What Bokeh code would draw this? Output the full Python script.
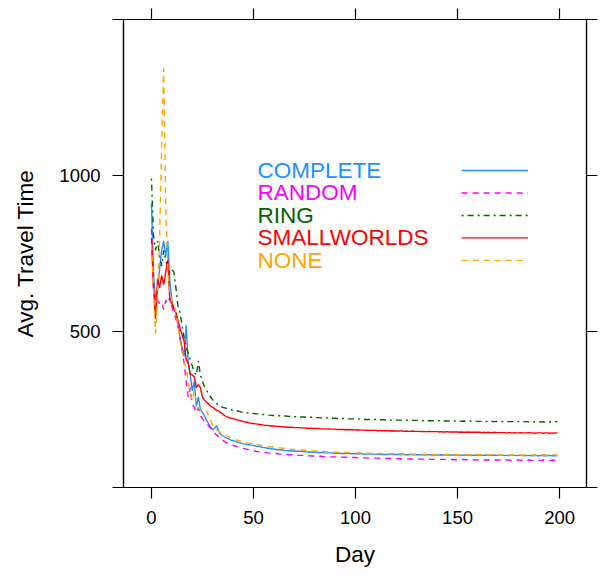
from bokeh.plotting import figure
from bokeh.models import LinearAxis, FixedTicker, Range1d, ColumnDataSource
from bokeh.embed import file_html
from bokeh.resources import INLINE
from bokeh.core.properties import value

days = list(range(200))

complete = [
    910, 690, 600, 640, 700, 760, 790, 740, 790, 660,
    600, 570, 560, 520, 480, 450, 420, 520, 400, 360,
    310, 340, 260, 290, 250, 240, 230, 215, 205, 193,
    185, 190, 198, 180, 170, 165, 161, 158, 155, 152,
    150, 148, 146, 144, 142, 140, 139, 138, 137, 136,
    135, 133, 132, 131, 129, 128, 127, 126, 125, 124,
    123, 122, 121, 121, 120, 119, 119, 118, 118, 117,
    117, 116, 116, 116, 115, 115, 114, 114, 114, 113,
    113, 113, 112, 112, 112, 111, 111, 111, 111, 110,
    110, 110, 110, 109, 109, 109, 109, 109, 108, 108,
    108, 108, 108, 108, 107, 107, 107, 107, 107, 107,
    107, 106, 106, 106, 106, 106, 106, 106, 106, 106,
    106, 106, 105, 106, 105, 105, 105, 106, 105, 105,
    105, 105, 105, 105, 104, 105, 105, 104, 105, 104,
    104, 104, 105, 104, 104, 104, 104, 104, 104, 104,
    104, 104, 103, 104, 104, 103, 104, 104, 103, 104,
    103, 104, 103, 103, 104, 103, 103, 103, 104, 103,
    103, 103, 103, 103, 103, 102, 103, 103, 103, 102,
    103, 103, 102, 103, 102, 103, 102, 102, 103, 102,
    102, 103, 102, 102, 102, 103, 102, 102, 102, 102,
]

random_ = [
    830, 640, 590, 600, 590, 595, 570, 600, 590, 610,
    580, 560, 540, 520, 480, 440, 400, 340, 290, 320,
    265, 257, 240, 255, 230, 221, 212, 205, 198, 190,
    180, 174, 168, 162, 156, 151, 147, 143, 140, 137,
    135, 133, 131, 129, 127, 125, 124, 122, 120, 118,
    117, 116, 115, 114, 113, 112, 112, 111, 110, 110,
    109, 109, 108, 107, 107, 106, 106, 105, 105, 105,
    104, 104, 103, 103, 103, 102, 102, 102, 101, 101,
    101, 100, 100, 100, 99, 99, 99, 99, 98, 98,
    98, 98, 97, 97, 97, 97, 96, 96, 96, 96,
    96, 95, 95, 95, 95, 95, 94, 94, 94, 94,
    94, 94, 93, 93, 93, 93, 93, 93, 93, 92,
    92, 92, 92, 92, 92, 92, 91, 92, 91, 91,
    91, 91, 91, 91, 91, 90, 91, 90, 90, 90,
    90, 90, 90, 90, 90, 90, 89, 90, 89, 89,
    89, 89, 89, 90, 89, 89, 89, 89, 89, 88,
    89, 88, 89, 88, 88, 89, 88, 88, 88, 88,
    88, 88, 89, 88, 88, 88, 87, 88, 88, 88,
    88, 87, 88, 88, 87, 88, 87, 87, 88, 87,
    87, 87, 88, 87, 87, 87, 87, 88, 87, 87,
]

ring = [
    990, 810, 760, 790, 740, 710, 760, 730, 700, 690,
    700, 690, 640, 580, 560, 520, 480, 450, 430, 410,
    390, 370, 360, 405, 360, 340, 322, 312, 300, 290,
    281, 275, 269, 264, 260, 257, 255, 253, 251, 249,
    248, 247, 246, 244, 242, 241, 240, 239, 238, 238,
    237, 236, 236, 235, 234, 234, 233, 232, 232, 231,
    231, 230, 230, 230, 229, 229, 229, 228, 228, 228,
    227, 227, 227, 226, 226, 226, 225, 225, 225, 225,
    224, 224, 224, 223, 223, 223, 223, 222, 222, 222,
    222, 221, 221, 221, 221, 220, 220, 220, 220, 220,
    219, 219, 219, 219, 219, 218, 218, 218, 218, 218,
    218, 217, 217, 217, 217, 217, 217, 216, 216, 216,
    216, 216, 216, 216, 215, 216, 215, 215, 215, 215,
    215, 215, 215, 214, 215, 214, 214, 214, 214, 214,
    214, 214, 213, 214, 213, 213, 213, 213, 213, 213,
    213, 213, 212, 213, 212, 212, 213, 212, 212, 212,
    212, 212, 212, 211, 212, 212, 211, 212, 211, 212,
    211, 211, 211, 212, 211, 211, 211, 211, 210, 211,
    211, 211, 210, 211, 211, 210, 211, 210, 211, 210,
    210, 211, 210, 210, 211, 210, 210, 210, 211, 211,
]

smallworlds = [
    800, 640, 540, 670, 640, 680, 650, 690, 730, 600,
    590, 575, 560, 535, 510, 490, 470, 410, 400, 365,
    360, 355, 320, 330, 320, 290, 280, 273, 268, 260,
    257, 252, 247, 245, 240, 235, 230, 226, 224, 222,
    221, 219, 217, 215, 213, 211, 210, 209, 207, 206,
    205, 204, 203, 202, 201, 200, 199, 199, 198, 197,
    197, 196, 196, 195, 195, 194, 194, 193, 193, 193,
    192, 192, 192, 191, 191, 191, 190, 190, 190, 189,
    189, 189, 189, 188, 188, 188, 187, 188, 187, 187,
    187, 186, 186, 186, 186, 185, 186, 185, 185, 185,
    184, 185, 184, 184, 184, 183, 184, 183, 183, 183,
    183, 182, 183, 182, 182, 182, 182, 181, 182, 181,
    181, 181, 181, 181, 180, 181, 180, 180, 181, 180,
    180, 180, 179, 180, 179, 179, 180, 179, 179, 179,
    179, 178, 179, 178, 178, 179, 178, 178, 178, 178,
    178, 177, 178, 177, 177, 178, 177, 177, 177, 177,
    177, 177, 176, 177, 176, 177, 176, 176, 177, 176,
    176, 176, 176, 176, 175, 176, 176, 175, 176, 175,
    175, 176, 175, 175, 175, 176, 175, 175, 174, 175,
    175, 175, 174, 175, 175, 174, 175, 174, 175, 175,
]

none_ = [
    780, 640, 494, 620, 800, 1100, 1343, 900, 700, 620,
    600, 590, 560, 520, 470, 440, 400, 385, 340, 300,
    280, 310, 270, 255, 250, 246, 240, 246, 230, 215,
    200, 190, 185, 180, 177, 173, 169, 165, 162, 159,
    156, 154, 152, 150, 148, 146, 145, 143, 142, 140,
    139, 138, 137, 136, 135, 134, 133, 132, 131, 130,
    129, 128, 127, 127, 126, 125, 124, 124, 123, 122,
    122, 121, 121, 120, 120, 119, 119, 118, 118, 117,
    117, 117, 116, 116, 115, 115, 115, 114, 114, 114,
    113, 113, 113, 113, 112, 112, 112, 112, 111, 111,
    111, 111, 111, 110, 110, 110, 110, 110, 109, 109,
    109, 109, 109, 109, 109, 108, 108, 108, 108, 108,
    108, 108, 108, 108, 107, 108, 107, 107, 107, 107,
    107, 107, 107, 107, 107, 106, 107, 106, 106, 106,
    106, 106, 106, 106, 106, 106, 106, 105, 106, 106,
    105, 106, 105, 105, 106, 105, 105, 105, 105, 105,
    105, 105, 105, 105, 105, 104, 105, 105, 104, 105,
    104, 105, 104, 104, 105, 104, 104, 104, 105, 104,
    104, 104, 104, 105, 104, 104, 104, 104, 104, 104,
    104, 104, 105, 104, 104, 104, 104, 105, 104, 104,
]

series_names = ["COMPLETE", "RANDOM", "RING", "SMALLWORLDS", "NONE"]
series_values = [complete, random_, ring, smallworlds, none_]
series_colors = ["#1E90FF", "#FF00FF", "#006400", "#FF0000", "#FFA500"]
series_dashes = ["solid", "6 5", "2 4 6 4", "solid", "6 5"]

x_ticks = [0, 50, 100, 150, 200]
y_label_ticks = [500, 1000]
y_edge_ticks = [0, 1500]

FONT = "Liberation Sans"

p = figure(width=602, height=576,
           x_range=Range1d(-13.7, 213.2), y_range=Range1d(0, 1500),
           output_backend="svg", toolbar_location=None,
           min_border_left=123, min_border_right=16,
           min_border_top=19, min_border_bottom=89)
p.xgrid.visible = False
p.ygrid.visible = False
p.outline_line_color = "black"
p.outline_line_width = 1.2
p.background_fill_color = "white"
p.border_fill_color = "white"

p.add_layout(LinearAxis(), "above")
p.add_layout(LinearAxis(), "right")

bottom = p.below[0]
left = p.left[0]
top = p.above[0]
right = p.right[0]

bottom.ticker = FixedTicker(ticks=x_ticks)
left.ticker = FixedTicker(ticks=y_label_ticks, minor_ticks=y_edge_ticks)
# unlabeled frame ticks drawn as "minor" ticks (no labels)
top.ticker = FixedTicker(ticks=[], minor_ticks=x_ticks)
right.ticker = FixedTicker(ticks=[], minor_ticks=y_label_ticks + y_edge_ticks)

for ax in p.axis:
    ax.axis_line_color = "black"
    ax.axis_line_width = 1.2
    ax.major_tick_line_color = "black"
    ax.major_tick_line_width = 1.2
    ax.major_tick_in = 0
    ax.major_tick_out = 11
    ax.minor_tick_line_color = "black"
    ax.minor_tick_line_width = 1.2
    ax.minor_tick_in = 0
    ax.minor_tick_out = 11
    ax.major_label_text_font = FONT
    ax.major_label_text_font_size = "18.5px"
    ax.major_label_text_color = "black"
    ax.axis_label_text_font = FONT
    ax.axis_label_text_font_style = "normal"
    ax.axis_label_text_font_size = "22.5px"
    ax.axis_label_text_color = "black"

top.major_label_standoff = 0
right.major_label_standoff = 0

bottom.axis_label = "Day"
bottom.major_label_standoff = 12
bottom.axis_label_standoff = 15
left.axis_label = "Avg. Travel Time"
left.major_label_standoff = 12
left.axis_label_standoff = 18

for name, vals, col, dash in zip(series_names, series_values, series_colors, series_dashes):
    p.line(days, vals, line_color=col, line_width=1.4, line_dash=dash)

# key (text first, then line sample) placed in data coordinates
key_text_x = 52
key_line_x0, key_line_x1 = 152, 184.5
key_top = 1016
key_step = 72
key_y = [key_top - i * key_step for i in range(len(series_names))]

key_src = ColumnDataSource(dict(x=[key_text_x] * len(series_names), y=key_y,
                                text=series_names, color=series_colors))
p.text(x="x", y="y", text="text", text_color="color", source=key_src,
       text_font=value(FONT), text_font_size="22.5px",
       text_align="left", text_baseline="middle")
for yy, col, dash in zip(key_y, series_colors, series_dashes):
    p.line([key_line_x0, key_line_x1], [yy, yy], line_color=col,
           line_width=1.4, line_dash=dash)

open("out.html", "w").write(file_html(p, INLINE))
